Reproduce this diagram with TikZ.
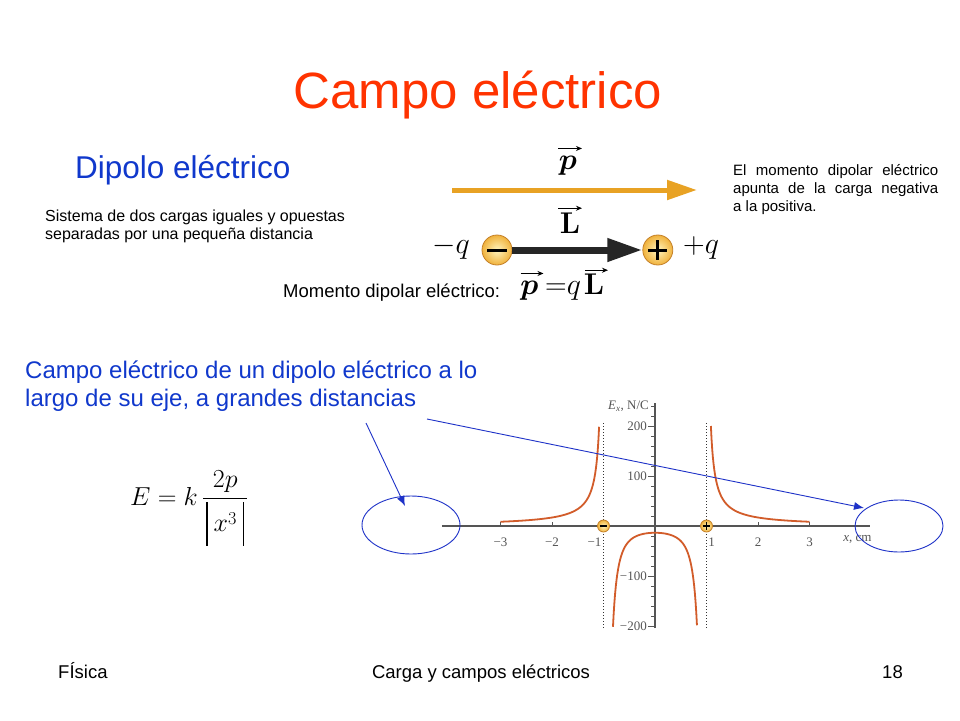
\RequirePackage{fix-cm}
\documentclass[tikz,border=0pt]{standalone}
\usepackage{amsmath}
\usepackage[no-math]{fontspec}
\setmainfont{Liberation Sans}
\newfontfamily\graphfont{Liberation Serif}
\usetikzlibrary{positioning}
\usetikzlibrary{calc}
\usetikzlibrary{shapes.geometric}
\usetikzlibrary{arrows.meta}

\definecolor{titlered}{RGB}{255,51,0}
\definecolor{headblue}{RGB}{16,56,204}
\definecolor{momentorange}{RGB}{232,162,36}
\definecolor{curveorange}{RGB}{210,92,42}
\definecolor{axisgray}{RGB}{85,85,85}
\definecolor{pointblue}{RGB}{30,50,200}
\definecolor{chargein}{RGB}{255,244,190}
\definecolor{chargeout}{RGB}{240,178,60}
\definecolor{chargeedge}{RGB}{196,128,40}

\newcommand\absbar{\vrule width 1.5pt height 30pt depth 14pt}

\tikzset{
	neg/.style 2 args={charge,minimum size=#1,path picture={
		\draw[black,line width=#2] ([xshift=-0.32*#1]path picture bounding box.center) -- ([xshift=0.32*#1]path picture bounding box.center);}},
	pos/.style 2 args={charge,minimum size=#1,path picture={
		\draw[black,line width=#2] ([xshift=-0.32*#1]path picture bounding box.center) -- ([xshift=0.32*#1]path picture bounding box.center)
		([yshift=-0.32*#1]path picture bounding box.center) -- ([yshift=0.32*#1]path picture bounding box.center);}},
}

\begin{document}
\begin{tikzpicture}[x=1pt,y=-1pt,>=Stealth,every node/.style={inner sep=0pt}]
	\tikzstyle{slide title}=[font=\fontsize{51}{60}\selectfont,text=titlered,anchor=base]
	\tikzstyle{heading}=[font=\fontsize{31.5}{36}\selectfont,text=headblue,anchor=base west]
	\tikzstyle{subheading}=[font=\fontsize{24}{28}\selectfont,text=headblue,anchor=base west,align=left]
	\tikzstyle{body}=[font=\fontsize{16}{18}\selectfont,anchor=base west,align=left]
	\tikzstyle{note}=[font=\fontsize{15}{18}\selectfont,anchor=base west,text width=205pt,align=justify]
	\tikzstyle{footer}=[font=\fontsize{18.5}{20}\selectfont,anchor=base]
	\tikzstyle{symbol}=[font=\fontsize{30}{30}\selectfont,anchor=base]
	\tikzstyle{formula}=[font=\fontsize{26}{30}\selectfont,anchor=base west]
	\tikzstyle{vec accent}=[line width=1.1pt,-{Stealth[length=6pt,width=5pt]}]
	\tikzstyle{charge}=[circle,draw=chargeedge,line width=0.8pt,inner color=chargein,outer color=chargeout]
	\tikzstyle{moment}=[draw=momentorange,line width=5pt,-{Triangle[length=30pt,width=19pt]}]
	\tikzstyle{separation}=[draw=black!85,line width=7pt,-{Triangle[length=35pt,width=22pt]}]
	\tikzstyle{graph axis}=[draw=axisgray,line width=1.8pt]
	\tikzstyle{axis tick}=[draw=axisgray,line width=0.9pt]
	\tikzstyle{tick label}=[font=\graphfont\fontsize{13}{13}\selectfont,text=axisgray]
	\tikzstyle{field curve}=[draw=curveorange,line width=1.8pt]
	\tikzstyle{asymptote}=[draw=black!80,line width=1.4pt,dash pattern=on 1.4pt off 1.6pt]
	\tikzstyle{ring}=[ellipse,draw=pointblue,line width=0.9pt]
	\tikzstyle{pointer}=[draw=pointblue,line width=0.9pt,-{Latex[length=10pt,width=8pt]}]

	\useasboundingbox (0,0) rectangle (960,720);
	\fill[white] (0,0) rectangle (960,720);

	% texts of the slide
	\node[slide title] (title) at (478,108) {Campo eléctrico};
	\node[heading] (dipolo) at (75,178) {Dipolo eléctrico};
	\node[body] (sistema) at (45,239) {Sistema de dos cargas iguales y opuestas\\separadas por una pequeña distancia};
	\node[note] (apunta) at (733,175) {El momento dipolar eléctrico\linebreak apunta de la carga negativa\linebreak a la positiva.};
	\node[body,font=\fontsize{18.5}{20}\selectfont] (momento) at (283,297) {Momento dipolar eléctrico:};
	\node[subheading] (eje) at (25,406) {Campo eléctrico de un dipolo eléctrico a lo\\largo de su eje, a grandes distancias};
	\node[formula] (efield) at (130,505) {$\displaystyle E=k\mkern3mu\frac{2p}{\mkern2mu\absbar\mkern4mu x^{3}\mkern4mu\absbar\mkern2mu}$};

	% dipole
	\coordinate (pstart) at (452,190);
	\coordinate (pend) at (697,190);
	\draw[moment] (pstart) -- (pend);
	\node[symbol] (plabel) at (568,169) {$\boldsymbol{p}$};
	\draw[vec accent] ([shift={(-10pt,7pt)}]plabel.north) -- ([shift={(14pt,7pt)}]plabel.north);
	\node[neg={30pt}{3pt}] (negq) at (497,250) {};
	\node[pos={30pt}{3pt}] (posq) [right=130pt of negq] {};
	\draw[separation] (negq) -- (posq);
	\node[symbol] (Llabel) at (570,233) {$\mathbf{L}$};
	\draw[vec accent] ([shift={(-12pt,4pt)}]Llabel.north) -- ([shift={(12pt,4pt)}]Llabel.north);
	\node[symbol] (minusq) at (451,253) {$-q$};
	\node[symbol] (plusq) at (701,253) {$+q$};

	% p = q L
	\node[symbol] (pp) at (529.5,294) {$\boldsymbol{p}$};
	\node[symbol] (eqsign) at (556,294) {$=$};
	\node[symbol] (qq) at (574,294) {$q$};
	\node[symbol] (LL) at (594,294) {$\mathbf{L}$};
	\draw[vec accent] ([shift={(-9pt,7pt)}]pp.north) -- ([shift={(14pt,7pt)}]pp.north);
	\draw[vec accent] ([shift={(-9pt,3pt)}]LL.north) -- ([shift={(14pt,3pt)}]LL.north);

	% graph of E_x along the axis
	\begin{scope}[shift={(655,526)},x=51.5pt,y=0.5pt]
		\draw[graph axis] (-4.14,0) -- (4.17,0);
		\draw[graph axis] (0,-204) -- (0,246);
		\foreach \v in {-200,-180,...,240}
			\draw[axis tick] (0,\v) -- ++(-4pt,0);
		\foreach \v/\t [count=\i] in {200/200,100/100,-100/−100,-200/−200} {
			\draw[axis tick] (0,\v) -- ++(-7pt,0);
			\node[tick label,anchor=east] (ylab\i) at ([xshift=-8pt]0,\v) {\t};
		}
		\foreach \x/\t [count=\i] in {-3/−3,-2/−2,2/2,3/3} {
			\draw[axis tick] (\x,0) -- ++(0,4pt);
			\node[tick label,anchor=center] (xlab\i) at ([yshift=-16pt]\x,0) {\t};
		}
		\node[tick label] (xlabm) at ([xshift=-9pt,yshift=-16pt]-1,0) {−1};
		\node[tick label] (xlabp) at ([xshift=5pt,yshift=-16pt]1,0) {1};
		\node[tick label,anchor=east] (ylabel) at ([xshift=-6pt,yshift=-3pt]0,246) {\textit{E}\textsubscript{\textit{x}}, N/C};
		\node[tick label] (xlabel) at ([yshift=-13pt]3.93,0) {\textit{x}, cm};
		\draw[asymptote] (-1,206) -- (-1,-204);
		\draw[asymptote] (1,206) -- (1,-204);
		\draw[field curve] plot[domain=1.085:3,samples=150] (\x,{17/(\x-1)});
		\draw[field curve] plot[domain=-3:-1.085,samples=150] (\x,{-17/(\x+1)});
		\draw[field curve] plot[domain=-0.816:0.816,samples=120] (\x,{-6.75*(1/((\x+1)^2)+1/((\x-1)^2))});
		\node[neg={12pt}{1.4pt}] (gneg) at (-1,0) {};
		\node[pos={12pt}{1.4pt}] (gpos) at (1,0) {};
	\end{scope}

	% far field pointers
	\node[ring,minimum width=98pt,minimum height=58pt] (leftring) at (411,525) {};
	\node[ring,minimum width=88pt,minimum height=52pt] (rightring) at (899,526) {};
	\coordinate (leftfrom) at (366,423);
	\coordinate (lefttip) at (405,506);
	\coordinate (rightfrom) at (427,419);
	\coordinate (righttip) at (864,508);
	\draw[pointer] (leftfrom) -- (lefttip);
	\draw[pointer] (rightfrom) -- (righttip);

	% footer
	\node[footer,anchor=base west] (fisica) at (58,678) {FÍsica};
	\node[footer] (tema) at (481,678) {Carga y campos eléctricos};
	\node[footer,anchor=base east] (pagina) at (903,678) {18};
\end{tikzpicture}
\end{document}
